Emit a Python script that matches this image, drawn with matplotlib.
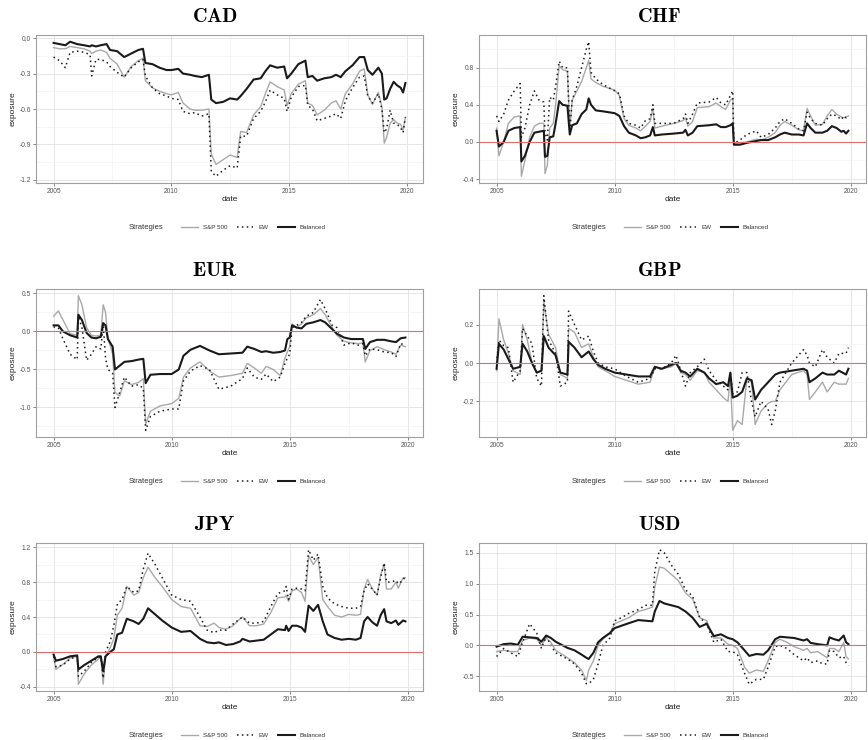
import matplotlib
matplotlib.use("Agg")
import matplotlib.pyplot as plt
from matplotlib.ticker import MultipleLocator, FormatStrFormatter

plt.rcParams['font.family'] = ['Liberation Sans', 'DejaVu Sans']
plt.rcParams['mathtext.fontset'] = 'cm'

# ---- CAD ----
CAD_DATE = [2005.0, 2005.25, 2005.5, 2005.7, 2006.0, 2006.3, 2006.55, 2006.62, 2006.8, 2007.0,
            2007.25, 2007.4, 2007.7, 2008.0, 2008.3, 2008.6, 2008.8, 2008.9, 2009.2, 2009.5,
            2009.8, 2010.0, 2010.3, 2010.5, 2010.8, 2011.0, 2011.3, 2011.6, 2011.7, 2011.9,
            2012.2, 2012.5, 2012.8, 2012.95, 2013.2, 2013.5, 2013.8, 2014.0, 2014.2, 2014.5,
            2014.8, 2014.92, 2015.1, 2015.4, 2015.7, 2015.8, 2016.0, 2016.2, 2016.5, 2016.8,
            2017.0, 2017.2, 2017.4, 2017.7, 2018.0, 2018.2, 2018.35, 2018.55, 2018.8, 2018.95,
            2019.05, 2019.15, 2019.3, 2019.45, 2019.6, 2019.75, 2019.85, 2019.95]
CAD_BAL = [-0.04, -0.05, -0.06, -0.03, -0.05, -0.06, -0.07, -0.06, -0.07, -0.06,
           -0.05, -0.10, -0.11, -0.16, -0.13, -0.10, -0.09, -0.21, -0.22, -0.25,
           -0.27, -0.27, -0.26, -0.30, -0.31, -0.32, -0.33, -0.31, -0.52, -0.55,
           -0.54, -0.51, -0.52, -0.49, -0.43, -0.35, -0.34, -0.28, -0.23, -0.25,
           -0.24, -0.34, -0.30, -0.22, -0.19, -0.33, -0.32, -0.36, -0.34, -0.33,
           -0.31, -0.33, -0.28, -0.23, -0.16, -0.16, -0.27, -0.31, -0.25, -0.30,
           -0.52, -0.51, -0.43, -0.37, -0.40, -0.42, -0.46, -0.38]
CAD_SP = [-0.08, -0.09, -0.09, -0.07, -0.08, -0.09, -0.11, -0.13, -0.11, -0.10,
          -0.12, -0.17, -0.22, -0.33, -0.24, -0.19, -0.17, -0.36, -0.42, -0.45,
          -0.47, -0.48, -0.46, -0.55, -0.60, -0.61, -0.61, -0.60, -0.98, -1.07,
          -1.03, -0.99, -1.01, -0.79, -0.80, -0.65, -0.58, -0.47, -0.37, -0.41,
          -0.44, -0.57, -0.47, -0.39, -0.36, -0.55, -0.57, -0.65, -0.61, -0.55,
          -0.53, -0.60, -0.47, -0.39, -0.28, -0.26, -0.48, -0.56, -0.46, -0.58,
          -0.89, -0.84, -0.72, -0.69, -0.72, -0.73, -0.78, -0.67]
CAD_EW = [-0.16, -0.19, -0.25, -0.12, -0.11, -0.12, -0.14, -0.32, -0.18, -0.18,
          -0.20, -0.24, -0.29, -0.33, -0.25, -0.20, -0.18, -0.32, -0.42, -0.47,
          -0.49, -0.51, -0.52, -0.62, -0.64, -0.63, -0.66, -0.64, -1.13, -1.17,
          -1.12, -1.08, -1.10, -0.83, -0.83, -0.68, -0.62, -0.54, -0.44, -0.48,
          -0.51, -0.62, -0.50, -0.41, -0.40, -0.57, -0.60, -0.70, -0.68, -0.66,
          -0.64, -0.68, -0.53, -0.42, -0.33, -0.32, -0.49, -0.55, -0.47, -0.60,
          -0.80, -0.77, -0.61, -0.72, -0.73, -0.76, -0.80, -0.67]

# ---- CHF ----
CHF_DATE = [2005.0, 2005.1, 2005.3, 2005.5, 2005.75, 2006.0, 2006.05, 2006.2, 2006.4, 2006.6,
            2006.8, 2007.0, 2007.05, 2007.15, 2007.25, 2007.4, 2007.5, 2007.65, 2007.8, 2008.0,
            2008.1, 2008.2, 2008.4, 2008.6, 2008.8, 2008.9, 2009.0, 2009.2, 2009.5, 2010.0,
            2010.2, 2010.4, 2010.6, 2010.9, 2011.1, 2011.3, 2011.5, 2011.62, 2011.7, 2012.0,
            2012.5, 2012.9, 2013.0, 2013.1, 2013.3, 2013.5, 2014.0, 2014.3, 2014.5, 2014.7,
            2014.9, 2015.0, 2015.05, 2015.3, 2015.6, 2016.0, 2016.2, 2016.5, 2016.8, 2017.0,
            2017.2, 2017.5, 2017.8, 2018.0, 2018.15, 2018.3, 2018.5, 2018.8, 2019.0, 2019.2,
            2019.4, 2019.6, 2019.7, 2019.8, 2019.9]
CHF_BAL = [0.12, -0.05, 0.0, 0.12, 0.15, 0.16, -0.21, -0.15, 0.0, 0.10,
           0.11, 0.12, -0.16, -0.15, 0.05, 0.06, 0.20, 0.44, 0.40, 0.39,
           0.08, 0.18, 0.20, 0.30, 0.35, 0.47, 0.40, 0.34, 0.33, 0.31,
           0.28, 0.17, 0.10, 0.07, 0.04, 0.05, 0.07, 0.16, 0.07, 0.08,
           0.09, 0.10, 0.13, 0.07, 0.10, 0.17, 0.18, 0.19, 0.16, 0.16,
           0.18, 0.20, -0.03, -0.03, -0.01, 0.01, 0.02, 0.02, 0.05, 0.08,
           0.10, 0.08, 0.08, 0.07, 0.20, 0.15, 0.10, 0.10, 0.12, 0.17,
           0.15, 0.11, 0.12, 0.09, 0.12]
CHF_SP = [0.15, -0.15, 0.0, 0.20, 0.27, 0.28, -0.37, -0.20, 0.05, 0.17,
          0.20, 0.20, -0.34, -0.25, 0.15, 0.20, 0.40, 0.82, 0.78, 0.76,
          0.15, 0.45, 0.55, 0.65, 0.80, 0.88, 0.68, 0.64, 0.60, 0.56,
          0.50, 0.25, 0.18, 0.15, 0.12, 0.17, 0.22, 0.36, 0.15, 0.17,
          0.20, 0.23, 0.26, 0.17, 0.22, 0.37, 0.38, 0.42, 0.38, 0.35,
          0.45, 0.47, -0.02, -0.01, 0.0, 0.03, 0.02, 0.05, 0.10, 0.18,
          0.22, 0.18, 0.13, 0.12, 0.36, 0.28, 0.18, 0.19, 0.28, 0.35,
          0.30, 0.27, 0.26, 0.27, 0.28]
CHF_EW = [0.28, 0.22, 0.30, 0.45, 0.55, 0.63, 0.05, 0.15, 0.40, 0.55,
          0.45, 0.43, 0.10, 0.02, 0.48, 0.45, 0.60, 0.87, 0.80, 0.80,
          0.10, 0.45, 0.60, 0.80, 1.00, 1.08, 0.75, 0.68, 0.62, 0.55,
          0.52, 0.28, 0.20, 0.18, 0.15, 0.23, 0.25, 0.40, 0.20, 0.20,
          0.20, 0.25, 0.30, 0.20, 0.30, 0.42, 0.43, 0.48, 0.42, 0.40,
          0.50, 0.55, -0.02, 0.02, 0.08, 0.12, 0.05, 0.08, 0.15, 0.22,
          0.25, 0.20, 0.14, 0.12, 0.32, 0.25, 0.20, 0.18, 0.25, 0.30,
          0.28, 0.24, 0.28, 0.26, 0.29]

# ---- EUR ----
EUR_DATE = [2005.0, 2005.2, 2005.4, 2005.7, 2006.0, 2006.05, 2006.2, 2006.4, 2006.6, 2006.8,
            2007.0, 2007.1, 2007.2, 2007.3, 2007.5, 2007.6, 2007.8, 2008.0, 2008.3, 2008.6,
            2008.8, 2008.9, 2009.1, 2009.5, 2010.0, 2010.3, 2010.5, 2010.8, 2011.2, 2011.6,
            2012.0, 2012.5, 2013.0, 2013.2, 2013.5, 2013.8, 2014.0, 2014.3, 2014.6, 2014.8,
            2014.9, 2015.0, 2015.1, 2015.3, 2015.5, 2015.7, 2016.0, 2016.3, 2016.5, 2016.8,
            2017.0, 2017.3, 2017.6, 2017.9, 2018.1, 2018.2, 2018.4, 2018.7, 2019.0, 2019.3,
            2019.5, 2019.7, 2019.9]
EUR_BAL = [0.08, 0.08, 0.0, -0.05, -0.08, 0.22, 0.15, -0.02, -0.08, -0.09,
           -0.07, 0.11, 0.08, -0.10, -0.20, -0.50, -0.45, -0.40, -0.39, -0.37,
           -0.36, -0.68, -0.57, -0.56, -0.56, -0.50, -0.32, -0.24, -0.19, -0.25,
           -0.30, -0.29, -0.28, -0.20, -0.23, -0.27, -0.26, -0.28, -0.27, -0.25,
           -0.10, -0.08, 0.08, 0.05, 0.04, 0.10, 0.12, 0.15, 0.12, 0.03,
           -0.03, -0.08, -0.10, -0.10, -0.10, -0.23, -0.14, -0.11, -0.11, -0.13,
           -0.14, -0.09, -0.08]
EUR_SP = [0.20, 0.27, 0.15, -0.03, -0.05, 0.47, 0.35, 0.05, -0.05, -0.06,
          -0.05, 0.35, 0.25, -0.08, -0.30, -0.80, -0.85, -0.65, -0.70, -0.67,
          -0.62, -1.22, -1.05, -0.98, -0.95, -0.88, -0.60, -0.48, -0.40, -0.52,
          -0.60, -0.58, -0.55, -0.42, -0.48, -0.55, -0.46, -0.50, -0.58, -0.35,
          -0.27, -0.20, 0.10, 0.05, 0.10, 0.18, 0.22, 0.30, 0.22, 0.05,
          -0.05, -0.13, -0.15, -0.16, -0.15, -0.40, -0.25, -0.20, -0.24, -0.27,
          -0.30, -0.18, -0.20]
EUR_EW = [0.06, 0.05, -0.10, -0.30, -0.37, 0.20, 0.05, -0.38, -0.30, -0.20,
          -0.23, 0.10, -0.35, -0.50, -0.55, -1.00, -0.80, -0.60, -0.72, -0.70,
          -0.75, -1.30, -1.12, -1.05, -1.02, -1.02, -0.65, -0.52, -0.45, -0.50,
          -0.76, -0.72, -0.62, -0.48, -0.60, -0.63, -0.56, -0.66, -0.60, -0.42,
          -0.35, -0.30, 0.05, 0.08, 0.12, 0.20, 0.25, 0.42, 0.30, 0.08,
          0.05, -0.18, -0.15, -0.18, -0.16, -0.32, -0.23, -0.24, -0.27, -0.28,
          -0.33, -0.16, -0.18]

# ---- GBP ----
GBP_DATE = [2005.0, 2005.1, 2005.3, 2005.5, 2005.7, 2006.0, 2006.1, 2006.3, 2006.5, 2006.7,
            2006.9, 2007.0, 2007.2, 2007.5, 2007.7, 2008.0, 2008.05, 2008.3, 2008.6, 2008.9,
            2009.1, 2009.3, 2009.6, 2010.0, 2010.5, 2011.0, 2011.5, 2011.7, 2012.0, 2012.4,
            2012.6, 2012.8, 2013.0, 2013.2, 2013.5, 2013.8, 2014.0, 2014.3, 2014.6, 2014.8,
            2014.9, 2015.0, 2015.2, 2015.4, 2015.6, 2015.8, 2015.95, 2016.2, 2016.5, 2016.65,
            2016.8, 2017.0, 2017.5, 2018.0, 2018.15, 2018.25, 2018.5, 2018.8, 2019.0, 2019.3,
            2019.5, 2019.8, 2019.9]
GBP_BAL = [-0.03, 0.10, 0.07, 0.02, -0.03, -0.02, 0.10, 0.06, 0.0, -0.05,
           -0.04, 0.14, 0.08, 0.04, -0.05, -0.06, 0.11, 0.08, 0.03, 0.06,
           0.02, -0.01, -0.03, -0.05, -0.06, -0.07, -0.07, -0.02, -0.03, -0.01,
           0.0, -0.04, -0.05, -0.07, -0.03, -0.05, -0.08, -0.11, -0.10, -0.12,
           -0.05, -0.18, -0.17, -0.15, -0.08, -0.09, -0.19, -0.14, -0.10, -0.08,
           -0.06, -0.05, -0.04, -0.03, -0.04, -0.10, -0.08, -0.05, -0.06, -0.06,
           -0.04, -0.06, -0.03]
GBP_SP = [-0.04, 0.23, 0.12, 0.05, -0.04, -0.06, 0.20, 0.12, 0.0, -0.05,
          -0.04, 0.32, 0.15, 0.08, -0.06, -0.08, 0.18, 0.16, 0.08, 0.10,
          0.03, -0.02, -0.04, -0.07, -0.09, -0.11, -0.10, -0.02, -0.03, -0.02,
          0.0, -0.05, -0.06, -0.09, -0.04, -0.05, -0.10, -0.14, -0.18, -0.20,
          -0.07, -0.35, -0.30, -0.32, -0.08, -0.10, -0.32, -0.25, -0.21, -0.20,
          -0.20, -0.14, -0.06, -0.04, -0.06, -0.19, -0.15, -0.10, -0.15, -0.10,
          -0.11, -0.11, -0.08]
GBP_EW = [0.0, 0.12, 0.09, 0.08, -0.10, -0.04, 0.18, 0.14, 0.10, -0.08,
          -0.12, 0.35, 0.12, 0.05, -0.12, -0.10, 0.27, 0.20, 0.12, 0.14,
          0.06, 0.0, -0.02, -0.03, -0.07, -0.10, -0.08, -0.03, -0.03, 0.0,
          0.04, -0.04, -0.12, -0.05, -0.02, 0.02, -0.04, -0.09, -0.12, -0.14,
          -0.05, -0.16, -0.15, -0.05, -0.05, -0.20, -0.28, -0.20, -0.24, -0.32,
          -0.25, -0.10, 0.0, 0.07, 0.04, 0.0, -0.02, 0.07, 0.03, 0.0,
          0.05, 0.05, 0.08]

# ---- JPY ----
JPY_DATE = [2005.0, 2005.1, 2005.4, 2005.7, 2006.0, 2006.05, 2006.3, 2006.6, 2006.9, 2007.0,
            2007.1, 2007.2, 2007.4, 2007.55, 2007.7, 2007.9, 2008.1, 2008.4, 2008.6, 2008.8,
            2009.0, 2009.3, 2009.6, 2010.0, 2010.4, 2010.8, 2011.2, 2011.5, 2011.8, 2012.0,
            2012.3, 2012.6, 2012.9, 2013.0, 2013.3, 2013.6, 2013.9, 2014.2, 2014.5, 2014.8,
            2014.85, 2014.95, 2015.1, 2015.3, 2015.5, 2015.65, 2015.8, 2016.0, 2016.2, 2016.4,
            2016.6, 2016.9, 2017.2, 2017.5, 2017.8, 2018.0, 2018.15, 2018.3, 2018.5, 2018.7,
            2018.85, 2019.0, 2019.1, 2019.3, 2019.5, 2019.6, 2019.8, 2019.9]
JPY_BAL = [-0.03, -0.10, -0.08, -0.05, -0.04, -0.20, -0.15, -0.10, -0.05, -0.05,
           -0.22, -0.05, 0.0, 0.03, 0.20, 0.22, 0.38, 0.35, 0.32, 0.38,
           0.50, 0.43, 0.36, 0.28, 0.23, 0.24, 0.15, 0.11, 0.10, 0.11,
           0.08, 0.09, 0.12, 0.15, 0.12, 0.13, 0.14, 0.20, 0.26, 0.25,
           0.30, 0.24, 0.30, 0.30, 0.28, 0.23, 0.53, 0.47, 0.54, 0.35,
           0.20, 0.16, 0.14, 0.15, 0.14, 0.16, 0.35, 0.40, 0.34, 0.30,
           0.42, 0.49, 0.35, 0.33, 0.36, 0.31, 0.36, 0.35]
JPY_SP = [-0.06, -0.20, -0.14, -0.07, -0.05, -0.37, -0.25, -0.15, -0.08, -0.06,
          -0.37, -0.05, 0.05, 0.15, 0.42, 0.50, 0.75, 0.65, 0.68, 0.85,
          0.97, 0.85, 0.75, 0.60, 0.52, 0.50, 0.30, 0.29, 0.33, 0.28,
          0.26, 0.30, 0.38, 0.40, 0.30, 0.30, 0.32, 0.45, 0.62, 0.63,
          0.65, 0.58, 0.70, 0.72, 0.68, 0.58, 1.10, 1.00, 1.08, 0.60,
          0.52, 0.42, 0.40, 0.43, 0.42, 0.43, 0.72, 0.83, 0.72, 0.65,
          0.88, 1.00, 0.72, 0.72, 0.80, 0.73, 0.85, 0.85]
JPY_EW = [-0.05, -0.17, -0.15, -0.08, -0.05, -0.28, -0.22, -0.12, -0.06, -0.06,
          -0.30, 0.0, 0.12, 0.30, 0.55, 0.60, 0.75, 0.68, 0.70, 0.95,
          1.13, 1.00, 0.85, 0.65, 0.60, 0.58, 0.40, 0.25, 0.22, 0.25,
          0.25, 0.32, 0.38, 0.40, 0.33, 0.33, 0.35, 0.52, 0.67, 0.70,
          0.75, 0.60, 0.72, 0.73, 0.72, 0.70, 1.17, 1.05, 1.12, 0.75,
          0.62, 0.55, 0.52, 0.50, 0.50, 0.52, 0.70, 0.78, 0.72, 0.65,
          0.85, 1.02, 0.80, 0.80, 0.82, 0.78, 0.82, 0.87]

# ---- USD ----
USD_DATE = [2005.0, 2005.3, 2005.6, 2005.9, 2006.1, 2006.4, 2006.7, 2006.9, 2007.1, 2007.3,
            2007.5, 2007.8, 2008.0, 2008.3, 2008.6, 2008.8, 2008.9, 2009.1, 2009.3, 2009.5,
            2009.8, 2010.0, 2010.3, 2010.6, 2011.0, 2011.3, 2011.6, 2011.7, 2011.9, 2012.1,
            2012.4, 2012.7, 2013.0, 2013.3, 2013.6, 2013.9, 2014.0, 2014.2, 2014.5, 2014.8,
            2015.0, 2015.2, 2015.5, 2015.7, 2016.0, 2016.3, 2016.5, 2016.8, 2017.0, 2017.3,
            2017.6, 2018.0, 2018.15, 2018.3, 2018.6, 2018.8, 2019.0, 2019.1, 2019.3, 2019.5,
            2019.7, 2019.8, 2019.9]
USD_BAL = [-0.02, 0.02, 0.03, 0.01, 0.14, 0.13, 0.12, 0.06, 0.16, 0.12,
           0.06, 0.0, -0.04, -0.08, -0.15, -0.20, -0.22, -0.12, 0.05, 0.12,
           0.20, 0.28, 0.32, 0.36, 0.41, 0.40, 0.39, 0.55, 0.72, 0.68,
           0.65, 0.62, 0.55, 0.45, 0.30, 0.35, 0.28, 0.15, 0.18, 0.12,
           0.10, 0.05, -0.08, -0.17, -0.14, -0.15, -0.08, 0.10, 0.14, 0.13,
           0.12, 0.08, 0.10, 0.04, 0.02, 0.01, 0.0, 0.13, 0.10, 0.08,
           0.16, 0.05, 0.02]
USD_SP = [-0.10, -0.08, -0.10, -0.10, 0.08, 0.12, 0.10, 0.0, 0.12, 0.05,
          -0.08, -0.15, -0.20, -0.28, -0.40, -0.57, -0.40, -0.25, 0.0, 0.10,
          0.20, 0.35, 0.40, 0.45, 0.55, 0.58, 0.62, 0.95, 1.27, 1.25,
          1.15, 1.05, 0.85, 0.75, 0.45, 0.40, 0.30, 0.12, 0.12, 0.02,
          0.0, -0.05, -0.35, -0.45, -0.40, -0.42, -0.25, 0.05, 0.10, 0.05,
          -0.02, -0.08, -0.05, -0.12, -0.10, -0.15, -0.20, -0.05, -0.05, -0.10,
          0.05, -0.18, -0.22]
USD_EW = [-0.18, -0.05, -0.12, -0.18, 0.05, 0.35, 0.20, -0.05, 0.15, 0.0,
          -0.12, -0.18, -0.22, -0.30, -0.45, -0.62, -0.62, -0.55, -0.30, 0.0,
          0.12, 0.40, 0.45, 0.52, 0.58, 0.65, 0.65, 1.20, 1.55, 1.50,
          1.30, 1.15, 0.90, 0.80, 0.45, 0.35, 0.25, 0.05, 0.10, -0.10,
          -0.10, -0.15, -0.45, -0.63, -0.55, -0.55, -0.35, -0.02, 0.0, -0.05,
          -0.15, -0.25, -0.20, -0.28, -0.25, -0.30, -0.30, -0.08, -0.10, -0.20,
          -0.18, -0.28, -0.33]

CURRENCIES = ["CAD", "CHF", "EUR", "GBP", "JPY", "USD"]
Y_STEP = [0.3, 0.4, 0.5, 0.2, 0.4, 0.5]
SERIES = [(CAD_DATE, CAD_SP, CAD_EW, CAD_BAL),
          (CHF_DATE, CHF_SP, CHF_EW, CHF_BAL),
          (EUR_DATE, EUR_SP, EUR_EW, EUR_BAL),
          (GBP_DATE, GBP_SP, GBP_EW, GBP_BAL),
          (JPY_DATE, JPY_SP, JPY_EW, JPY_BAL),
          (USD_DATE, USD_SP, USD_EW, USD_BAL)]

W, H = 868, 740
fig = plt.figure(figsize=(W / 100, H / 100), dpi=100)


def px_rect(x0, top, w, h):
    return [x0 / W, 1 - (top + h) / H, w / W, h / H]


for i, name in enumerate(CURRENCIES):
    d, sp, ew, bal = SERIES[i]
    col, row = i % 2, i // 2
    x0 = 36 if col == 0 else 479
    top = 35 + 254 * row
    ax = fig.add_axes(px_rect(x0, top, 387, 148))

    ax.plot(d, sp, color='#a9a9a9', lw=1.0, label='S&P 500', zorder=3)
    ax.plot(d, ew, color='#1a1a1a', lw=1.1, ls=(0, (1, 2.2)), label='EW', zorder=4)
    ax.plot(d, bal, color='#1a1a1a', lw=1.5, label='Balanced', zorder=5)
    if name != "CAD":
        ax.axhline(0, color='#e06c6c', lw=0.8, zorder=6)

    ax.xaxis.set_major_locator(MultipleLocator(5))
    ax.xaxis.set_minor_locator(MultipleLocator(2.5))
    ax.yaxis.set_major_locator(MultipleLocator(Y_STEP[i]))
    ax.yaxis.set_minor_locator(MultipleLocator(Y_STEP[i] / 2))
    ax.yaxis.set_major_formatter(FormatStrFormatter('%.1f'))
    ax.xaxis.set_major_formatter(FormatStrFormatter('%d'))
    ax.grid(which='major', color='#e2e2e2', lw=0.6)
    ax.grid(which='minor', color='#f0f0f0', lw=0.4)
    ax.set_axisbelow(True)
    for s in ax.spines.values():
        s.set_color('#a0a0a0')
        s.set_linewidth(0.8)
    ax.tick_params(which='major', length=2, width=0.5, color='#555555',
                   labelsize=4.8, labelcolor='#555555', pad=1.5)
    ax.tick_params(which='minor', length=0)

    ax.set_xlabel('date', fontsize=6, color='#222222', labelpad=1)
    ax.set_ylabel('exposure', fontsize=6, color='#222222', labelpad=2)

    tx = 215 if col == 0 else 659
    ty = 17 + 254 * row
    fig.text(tx / W, 1 - ty / H, r'$\mathbf{%s}$' % name, ha='center', va='center',
             fontsize=14.5)

    ax.text(0.33, -0.30, 'Strategies', transform=ax.transAxes, ha='right', va='center',
            fontsize=5.5, color='#333333')
    ax.legend(loc='center', bbox_to_anchor=(0.562, -0.30), ncol=3, frameon=False,
              fontsize=4.5, handlelength=2.6, columnspacing=1.6, handletextpad=0.8,
              labelcolor='#333333')

fig.savefig('out.png', dpi=100, facecolor='white')
